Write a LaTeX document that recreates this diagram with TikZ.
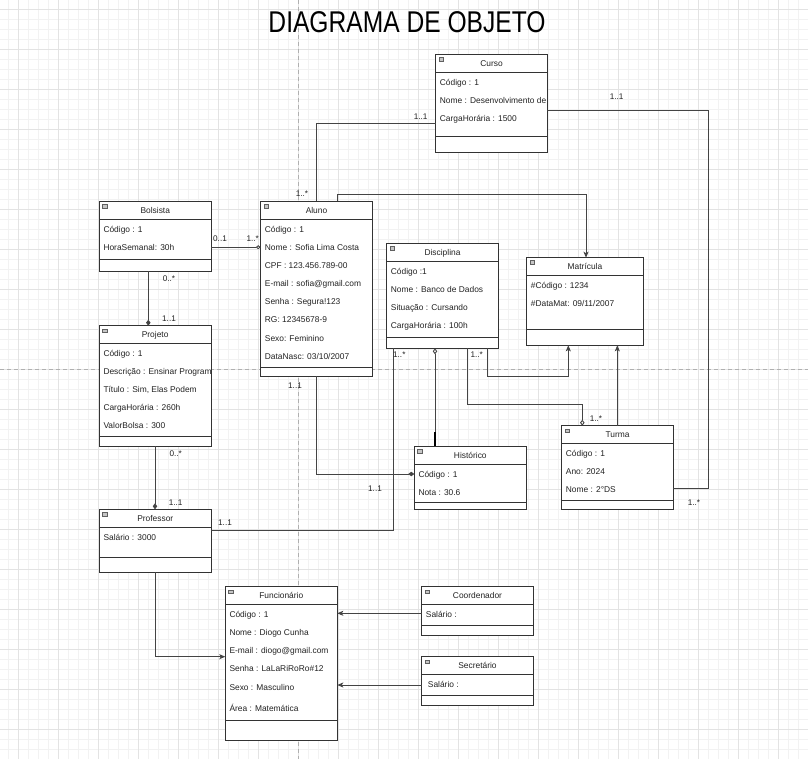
\documentclass[tikz,border=0pt]{standalone}
\usepackage{fontspec}
\setmainfont{Liberation Sans}
\usetikzlibrary{arrows.meta}
\definecolor{boxline}{HTML}{333333}
\definecolor{connline}{HTML}{444444}
\definecolor{textc}{HTML}{222222}
\definecolor{gminorc}{HTML}{F2F2F2}
\definecolor{gmajorc}{HTML}{E3E3E3}
\definecolor{pagec}{HTML}{B0B0B0}
\tikzset{
  umlbox/.style={draw=boxline, line width=0.9pt, fill=white, anchor=north west, inner sep=0pt, outer sep=0pt},
  umlsep/.style={draw=boxline, line width=0.9pt},
  conn/.style={draw=connline, line width=0.9pt},
  txt/.style={font=\fontsize{8.4}{10}\selectfont, text=textc, inner sep=0pt, anchor=base west},
  boxttl/.style={font=\fontsize{8.4}{10}\selectfont, text=textc, inner sep=0pt, anchor=base},
  mult/.style={font=\fontsize{8.2}{10}\selectfont, text=textc, inner sep=0pt},
  bigttl/.style={font=\fontsize{30}{30}\selectfont, text=black, inner sep=0pt},
  gminor/.style={draw=gminorc, line width=0.5pt},
  gmajor/.style={draw=gmajorc, line width=0.6pt},
  pagebrk/.style={draw=pagec, line width=0.6pt, dash pattern=on 4pt off 3pt},
  icon/.style={fill=gray!45, draw=gray!75!black, line width=0.4pt},
  arr/.style={-{Stealth[length=6pt,width=5pt,inset=1.5pt]}},
  fdia/.style={-{Diamond[length=6pt,width=4.5pt]}},
  odiaend/.style={-{Diamond[open,fill=white,length=6pt,width=4.5pt]}},
  odiastart/.style={{Diamond[open,fill=white,length=6pt,width=4.5pt]}-},
}
% name, x, y, w, h, separator offset, title
\newcommand\umlbox[7]{%
  \node[umlbox, minimum width=#4pt, minimum height=#5pt] (#1) at (#2,#3) {};
  \draw[umlsep] ([yshift=-18pt]#1.north west) -- ([yshift=-18pt]#1.north east);
  \draw[umlsep] ([yshift=-#6pt]#1.north west) -- ([yshift=-#6pt]#1.north east);
  \draw[icon] ([xshift=3pt,yshift=-3pt]#1.north west) rectangle ++(4.5,3.5);
  \node[boxttl] (#1-title) at ([yshift=-12.2pt]#1.north) {#7};
}
% box, index, y offset (text centre), text
\newcommand\attr[4]{%
  \node[txt] (#1-#2) at ([xshift=4pt,yshift=-#3pt-3pt]#1.north west) {#4};
}
\begin{document}
\begin{tikzpicture}[x=1pt,y=-1pt]
\useasboundingbox (0,0) rectangle (808,759);
\fill[white] (0,0) rectangle (808,759);
% grid
\foreach \gx in {8,18,...,808} \draw[gminor] (\gx,0) -- (\gx,759);
\foreach \gy in {9,19,...,759} \draw[gminor] (0,\gy) -- (808,\gy);
\foreach \gx in {18,58,...,808} \draw[gmajor] (\gx,0) -- (\gx,759);
\foreach \gy in {9,49,...,759} \draw[gmajor] (0,\gy) -- (808,\gy);
\draw[pagebrk] (298,0) -- (298,759);
\draw[pagebrk] (0,369.5) -- (808,369.5);

% title
\node[bigttl] (title) at (407,22) {\scalebox{0.82}[1]{DIAGRAMA DE OBJETO}};

% boxes
\umlbox{curso}{435.7}{54.3}{111.6}{98}{82}{Curso}
\attr{curso}{1}{28}{Código : 1}
\attr{curso}{2}{46}{Nome : Desenvolvimento de}
\attr{curso}{3}{64}{CargaHorária : 1500}

\umlbox{aluno}{260.7}{201.3}{111.6}{175}{166}{Aluno}
\attr{aluno}{1}{28}{Código : 1}
\attr{aluno}{2}{46}{Nome : Sofia Lima Costa}
\attr{aluno}{3}{64}{CPF : 123.456.789-00}
\attr{aluno}{4}{82}{E-mail : sofia@gmail.com}
\attr{aluno}{5}{100.5}{Senha : Segura!123}
\attr{aluno}{6}{118.5}{RG: 12345678-9}
\attr{aluno}{7}{137}{Sexo: Feminino}
\attr{aluno}{8}{155}{DataNasc: 03/10/2007}

\umlbox{bolsista}{99.3}{201.7}{112}{69.6}{58}{Bolsista}
\attr{bolsista}{1}{27.5}{Código : 1}
\attr{bolsista}{2}{45.5}{HoraSemanal: 30h}

\umlbox{projeto}{99.3}{325.7}{111.7}{120.3}{111}{Projeto}
\attr{projeto}{1}{27.7}{Código : 1}
\attr{projeto}{2}{45.7}{Descrição : Ensinar Program}
\attr{projeto}{3}{63.7}{Título : Sim, Elas Podem}
\attr{projeto}{4}{82}{CargaHorária : 260h}
\attr{projeto}{5}{100}{ValorBolsa : 300}

\umlbox{professor}{99.3}{509.3}{112}{63}{48}{Professor}
\attr{professor}{1}{28}{Salário : 3000}

\umlbox{disciplina}{386.7}{243.3}{111.6}{105}{94}{Disciplina}
\attr{disciplina}{1}{27.7}{Código :1}
\attr{disciplina}{2}{45.7}{Nome : Banco de Dados}
\attr{disciplina}{3}{63.7}{Situação : Cursando}
\attr{disciplina}{4}{81.7}{CargaHorária : 100h}

\umlbox{matricula}{526.7}{257.7}{116.6}{87.6}{71.3}{Matrícula}
\attr{matricula}{1}{28}{\#Código : 1234}
\attr{matricula}{2}{46}{\#DataMat: 09/11/2007}

\umlbox{historico}{414.3}{446.3}{112}{62.7}{56.4}{Histórico}
\attr{historico}{1}{28}{Código : 1}
\attr{historico}{2}{46}{Nota : 30.6}

\umlbox{turma}{561.7}{425.7}{111.6}{83.6}{74.6}{Turma}
\attr{turma}{1}{27.5}{Código : 1}
\attr{turma}{2}{45.5}{Ano: 2024}
\attr{turma}{3}{63.5}{Nome : 2°DS}

\umlbox{funcionario}{225.3}{586.7}{112}{154}{133.3}{Funcionário}
\attr{funcionario}{1}{27.3}{Código : 1}
\attr{funcionario}{2}{45.6}{Nome : Diogo Cunha}
\attr{funcionario}{3}{63.6}{E-mail : diogo@gmail.com}
\attr{funcionario}{4}{81.6}{Senha : LaLaRiRoRo\#12}
\attr{funcionario}{5}{100.6}{Sexo : Masculino}
\attr{funcionario}{6}{121.6}{Área : Matemática}

\umlbox{coordenador}{421.7}{586.7}{111.6}{48.6}{39}{Coordenador}
\attr{coordenador}{1}{27.3}{Salário :}

\umlbox{secretario}{421.7}{656.7}{111.6}{48.6}{39}{Secretário}
\node[txt] (secretario-1) at ([xshift=6pt,yshift=-30.6pt]secretario.north west) {Salário :};

% connectors
\draw[conn] ([xshift=55.3pt]aluno.north west) |- ([yshift=-69pt]curso.north west);
\draw[conn, arr] ([xshift=77pt]aluno.north west) -- ++(0,-6.6) -| ([xshift=59.3pt]matricula.north west);
\draw[conn] ([yshift=-55.7pt]curso.north east) -- ++(161,0) |- ([yshift=-62.6pt]turma.north east);
\draw[conn, -{Diamond[open,fill=white,length=5pt,width=4pt]}] ([yshift=-45.5pt]bolsista.north east) -- ([yshift=-45.5pt]bolsista.north east -| aluno.west);
\draw[conn, fdia] ([xshift=49pt]bolsista.south west) -- ([xshift=49pt]bolsista.south west |- projeto.north);
\draw[conn, fdia] ([xshift=55.7pt]projeto.south west) -- ([xshift=55.7pt]projeto.south west |- professor.north);
\draw[conn] ([yshift=-20.7pt]professor.north east) -| ([xshift=6.6pt]disciplina.south west);
\draw[conn, odiastart] ([xshift=48.3pt]disciplina.south west) -- ([xshift=48.3pt]disciplina.south west |- historico.north);
\draw[line width=1.5pt, draw=black] ([xshift=20.7pt]historico.north west) -- ++(0,-14);
\draw[conn, odiaend] ([xshift=80.6pt]disciplina.south west) -- ++(0,55.7) -| ([xshift=20.6pt]turma.north west);
\draw[conn, arr] ([xshift=101pt]disciplina.south west) -- ++(0,27.7) -| ([xshift=41.6pt]matricula.south west);
\draw[conn, arr] ([xshift=55.6pt]turma.north west) -- ([xshift=55.6pt]turma.north west |- matricula.south);
\draw[conn, fdia] ([xshift=55.3pt]aluno.south west) |- ([yshift=-27.7pt]historico.north west);
\draw[conn, arr] ([xshift=55.7pt]professor.south west) |- ([yshift=-70pt]funcionario.north west);
\draw[conn, arr] ([yshift=-26.6pt]coordenador.north west) -- ([yshift=-26.6pt]funcionario.north east);
\draw[conn, arr] ([yshift=-28.3pt]secretario.north west) -- ([yshift=-98.3pt]funcionario.north east);

% multiplicities
\node[mult] (m1) at (616.7,96.7) {1..1};
\node[mult] (m2) at (694,502.7) {1..*};
\node[mult] (m3) at (420.7,116.7) {1..1};
\node[mult] (m4) at (302,194) {1..*};
\node[mult] (m5) at (220,239) {0..1};
\node[mult] (m6) at (252.7,239) {1..*};
\node[mult] (m7) at (169,278.3) {0..*};
\node[mult] (m8) at (169,318.3) {1..1};
\node[mult] (m9) at (175.7,453.3) {0..*};
\node[mult] (m10) at (175.7,502.3) {1..1};
\node[mult] (m11) at (225,523) {1..1};
\node[mult] (m12) at (375,488.3) {1..1};
\node[mult] (m13) at (295,385.7) {1..1};
\node[mult] (m14) at (399.3,355) {1..*};
\node[mult] (m15) at (476.7,355) {1..*};
\node[mult] (m16) at (596,418.3) {1..*};
\end{tikzpicture}
\end{document}
